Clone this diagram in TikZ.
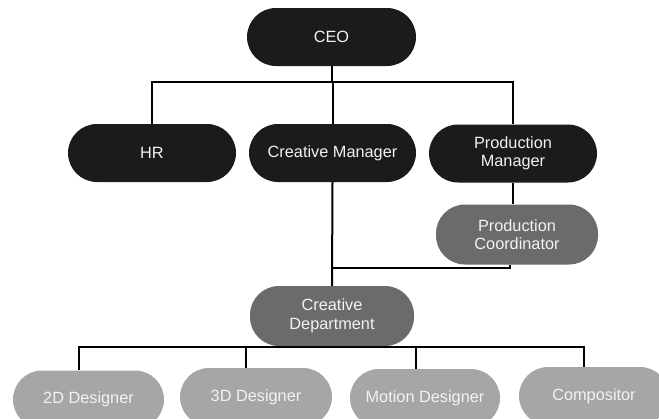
\documentclass[tikz,border=0pt]{standalone}
\usepackage{fontspec}
\setmainfont{Liberation Sans}
\definecolor{boxblack}{HTML}{1B1B1B}
\definecolor{boxdark}{HTML}{6B6B6B}
\definecolor{boxlight}{HTML}{A6A6A6}
\definecolor{txt}{HTML}{F2F2F2}
\tikzset{
  pill/.style={rectangle, rounded corners=29pt, minimum height=58pt, inner sep=0pt,
    text=txt, align=center, font=\fontsize{16.3}{18.5}\selectfont},
  blackpill/.style={pill, fill=boxblack},
  darkpill/.style={pill, fill=boxdark},
  lightpill/.style={pill, fill=boxlight},
  conn/.style={draw=black, line width=2pt}
}
\begin{document}
\begin{tikzpicture}[x=1pt,y=-1pt]
\clip (0,0) rectangle (659,418);
\fill[white] (0,0) rectangle (659,418);
\coordinate (busA) at (0,82);
\coordinate (busB) at (0,268);
\coordinate (busC) at (0,347);
% nodes
\node[blackpill, minimum width=169pt] (ceo) at (331.5,37) {CEO};
\node[blackpill, minimum width=168pt] (hr) at (152,153) {HR};
\node[blackpill, minimum width=167pt] (cm) at (332.5,153) {Creative Manager};
\node[blackpill, minimum width=168pt] (pm) at (513,153.5) {Production\\Manager};
\node[darkpill, minimum width=162pt, minimum height=60pt] (pc) at (517,234.5) {Production\\Coordinator};
\node[darkpill, minimum width=164pt, minimum height=60pt] (cd) at (332,316) {Creative\\Department};
\node[lightpill, minimum width=151pt] (d2) at (88.5,399.5) {2D Designer};
\node[lightpill, minimum width=152pt] (d3) at (256,397) {3D Designer};
\node[lightpill, minimum width=150pt] (mo) at (425,398) {Motion Designer};
\node[lightpill, minimum width=150pt] (co) at (594,396) {Compositor};
% connectors
\draw[conn] (ceo.south) -- (ceo.south |- busA);
\draw[conn] (hr.north) |- (pm.north |- busA) -- (pm.north);
\draw[conn] (cm.north) -- (cm.north |- busA);
\draw[conn] (pm.south) -- (pm.south |- pc.north);
\draw[conn] ([xshift=-7pt]pc.south) |- (cm.south |- busB);
\draw[conn] (cm.south) -- (cd.north);
\draw[conn] ([xshift=-10pt]d2.north) |- ([xshift=-10pt]co.north |- busC) -- ([xshift=-10pt]co.north);
\draw[conn] ([xshift=-10pt]d3.north) -- ([xshift=-10pt]d3.north |- busC);
\draw[conn] ([xshift=-9pt]mo.north) -- ([xshift=-9pt]mo.north |- busC);
\end{tikzpicture}
\end{document}
